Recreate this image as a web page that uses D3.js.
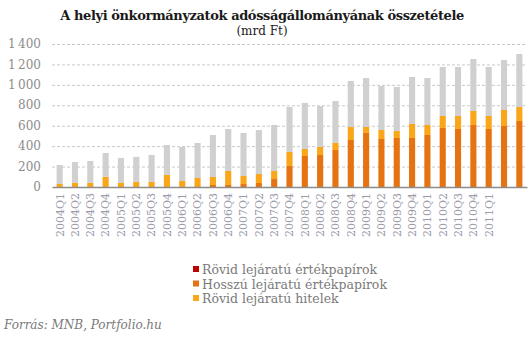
<!DOCTYPE html>
<html>
<head>
<meta charset="utf-8">
<script src="https://cdn.jsdelivr.net/npm/d3@7"></script>
<style>
    body { margin: 0; background: #fff; }
    svg { display: block; }
</style>
</head>
<body>
<svg id="chart"></svg>
<script>
const categories = ["2004Q1", "2004Q2", "2004Q3", "2004Q4", "2005Q1", "2005Q2", "2005Q3", "2005Q4",
    "2006Q1", "2006Q2", "2006Q3", "2006Q4", "2007Q1", "2007Q2", "2007Q3", "2007Q4",
    "2008Q1", "2008Q2", "2008Q3", "2008Q4", "2009Q1", "2009Q2", "2009Q3", "2009Q4",
    "2010Q1", "2010Q2", "2010Q3", "2010Q4", "2011Q1", "2011Q2", "2011Q3"];
// the last two bars carry no label in the original
const tickLabels = categories.map((c, i) => (i < 29 ? c : ""));

const hosszuErtekpapir = [0, 0, 0, 0, 0, 0, 0, 0, 0, 0, 20, 20, 29, 39, 78, 206,
    304, 313, 362, 460, 529, 470, 480, 480, 509, 578, 568, 607, 568, 597, 646];
const rovidErtekpapir = [0, 0, 0, 0, 0, 0, 0, 0, 0, 0, 0, 0, 0, 0, 0, 0,
    0, 0, 0, 0, 0, 0, 0, 0, 0, 0, 0, 0, 0, 0, 0];
const rovidHitel = [30, 40, 40, 100, 40, 50, 50, 118, 59, 88, 78, 137, 79, 88, 79, 137,
    68, 79, 69, 128, 59, 88, 68, 137, 98, 117, 127, 137, 127, 157, 137];
const hosszuHitel = [185, 205, 215, 233, 245, 245, 263, 293, 333, 343, 411, 411, 421, 431, 450, 440,
    451, 401, 411, 450, 479, 431, 431, 460, 460, 480, 480, 509, 480, 490, 519];
const yTicks = [0, 200, 400, 600, 800, 1000, 1200, 1400];

const width = 529, height = 340;
const margin = {left: 52, right: 2, top: 44, bottom: 153};

const svg = d3.select("#chart").attr("width", width).attr("height", height);

const serif = "Georgia, 'DejaVu Serif', serif";

const rows = categories.map((c, i) => ({
    cat: c,
    hosszuErt: hosszuErtekpapir[i],
    rovidErt: rovidErtekpapir[i],
    rovidHitel: rovidHitel[i],
    hosszuHitel: hosszuHitel[i]
}));

const keys = ["hosszuErt", "rovidErt", "rovidHitel", "hosszuHitel"];
const colors = {hosszuErt: "#e67312", rovidErt: "#c00000", rovidHitel: "#faa61a", hosszuHitel: "#d0d0d0"};

const x = d3.scaleBand()
    .domain(categories)
    .range([margin.left, width - margin.right])
    .paddingInner(0.6)
    .paddingOuter(0.3);

const y = d3.scaleLinear()
    .domain([0, 1400])
    .range([height - margin.bottom, margin.top]);

// gridlines
svg.append("g")
    .selectAll("line")
    .data(yTicks.slice(1))
    .enter()
    .append("line")
    .attr("x1", margin.left)
    .attr("x2", width - margin.right)
    .attr("y1", (d) => y(d) + 0.5)
    .attr("y2", (d) => y(d) + 0.5)
    .style("stroke", "#c8c8c8")
    .style("stroke-dasharray", "3,2");

const stack = d3.stack().keys(keys);
const series = stack(rows);

svg.append("g")
    .selectAll("g")
    .data(series)
    .enter()
    .append("g")
    .style("fill", (d) => colors[d.key])
    .selectAll("rect")
    .data((d) => d)
    .enter()
    .append("rect")
    .attr("x", (d) => x(d.data.cat))
    .attr("width", x.bandwidth())
    .attr("y", (d) => y(d[1]))
    .attr("height", (d) => y(d[0]) - y(d[1]));

// x axis
const xAxis = svg.append("g")
    .attr("transform", `translate(0,${height - margin.bottom})`)
    .call(d3.axisBottom(x).tickSize(0).tickFormat((d, i) => tickLabels[i]));
xAxis.select(".domain").style("stroke", "#8c8c8c").style("stroke-width", 1.5);
xAxis.selectAll("text")
    .attr("transform", "rotate(-90)")
    .attr("text-anchor", "end")
    .attr("x", -6)
    .attr("y", 0)
    .attr("dy", "0.35em")
    .style("font-family", serif)
    .style("font-size", "11px")
    .style("fill", "#9a9aa8");

// y axis labels
svg.append("g")
    .selectAll("text")
    .data(yTicks)
    .enter()
    .append("text")
    .attr("x", 41)
    .attr("y", (d) => y(d))
    .attr("dy", "0.35em")
    .attr("text-anchor", "end")
    .style("font-family", serif)
    .style("font-size", "12px")
    .style("fill", "#8c8c8c")
    .text((d) => d3.format(",")(d).replace(",", "\u2009"));

// title
svg.append("text")
    .attr("x", 262)
    .attr("y", 20)
    .attr("text-anchor", "middle")
    .style("font-family", serif)
    .style("font-weight", "bold")
    .style("font-size", "13px")
    .style("letter-spacing", "-0.4px")
    .style("fill", "#1a1a1a")
    .text("A helyi önkormányzatok adósságállományának összetétele");

svg.append("text")
    .attr("x", 262)
    .attr("y", 35)
    .attr("text-anchor", "middle")
    .style("font-family", serif)
    .style("font-size", "12px")
    .style("fill", "#1a1a1a")
    .text("(mrd Ft)");

// legend
const legendItems = [
    {label: "Rövid lejáratú értékpapírok", color: colors.rovidErt},
    {label: "Hosszú lejáratú értékpapírok", color: colors.hosszuErt},
    {label: "Rövid lejáratú hitelek", color: colors.rovidHitel}
];

const legend = svg.append("g")
    .selectAll("g")
    .data(legendItems)
    .enter()
    .append("g")
    .attr("transform", (d, i) => `translate(193,${270 + i * 14.5})`);

legend.append("rect")
    .attr("x", 0)
    .attr("y", -4)
    .attr("width", 6)
    .attr("height", 6)
    .style("fill", (d) => d.color);

legend.append("text")
    .attr("x", 9)
    .attr("y", 0)
    .attr("dy", "0.35em")
    .style("font-family", serif)
    .style("font-size", "12.5px")
    .style("fill", "#7a7a7a")
    .text((d) => d.label);

// source
svg.append("text")
    .attr("x", 4)
    .attr("y", 329)
    .style("font-family", serif)
    .style("font-style", "italic")
    .style("font-size", "12px")
    .style("fill", "#7a7a7a")
    .text("Forrás: MNB, Portfolio.hu");
</script>
</body>
</html>
